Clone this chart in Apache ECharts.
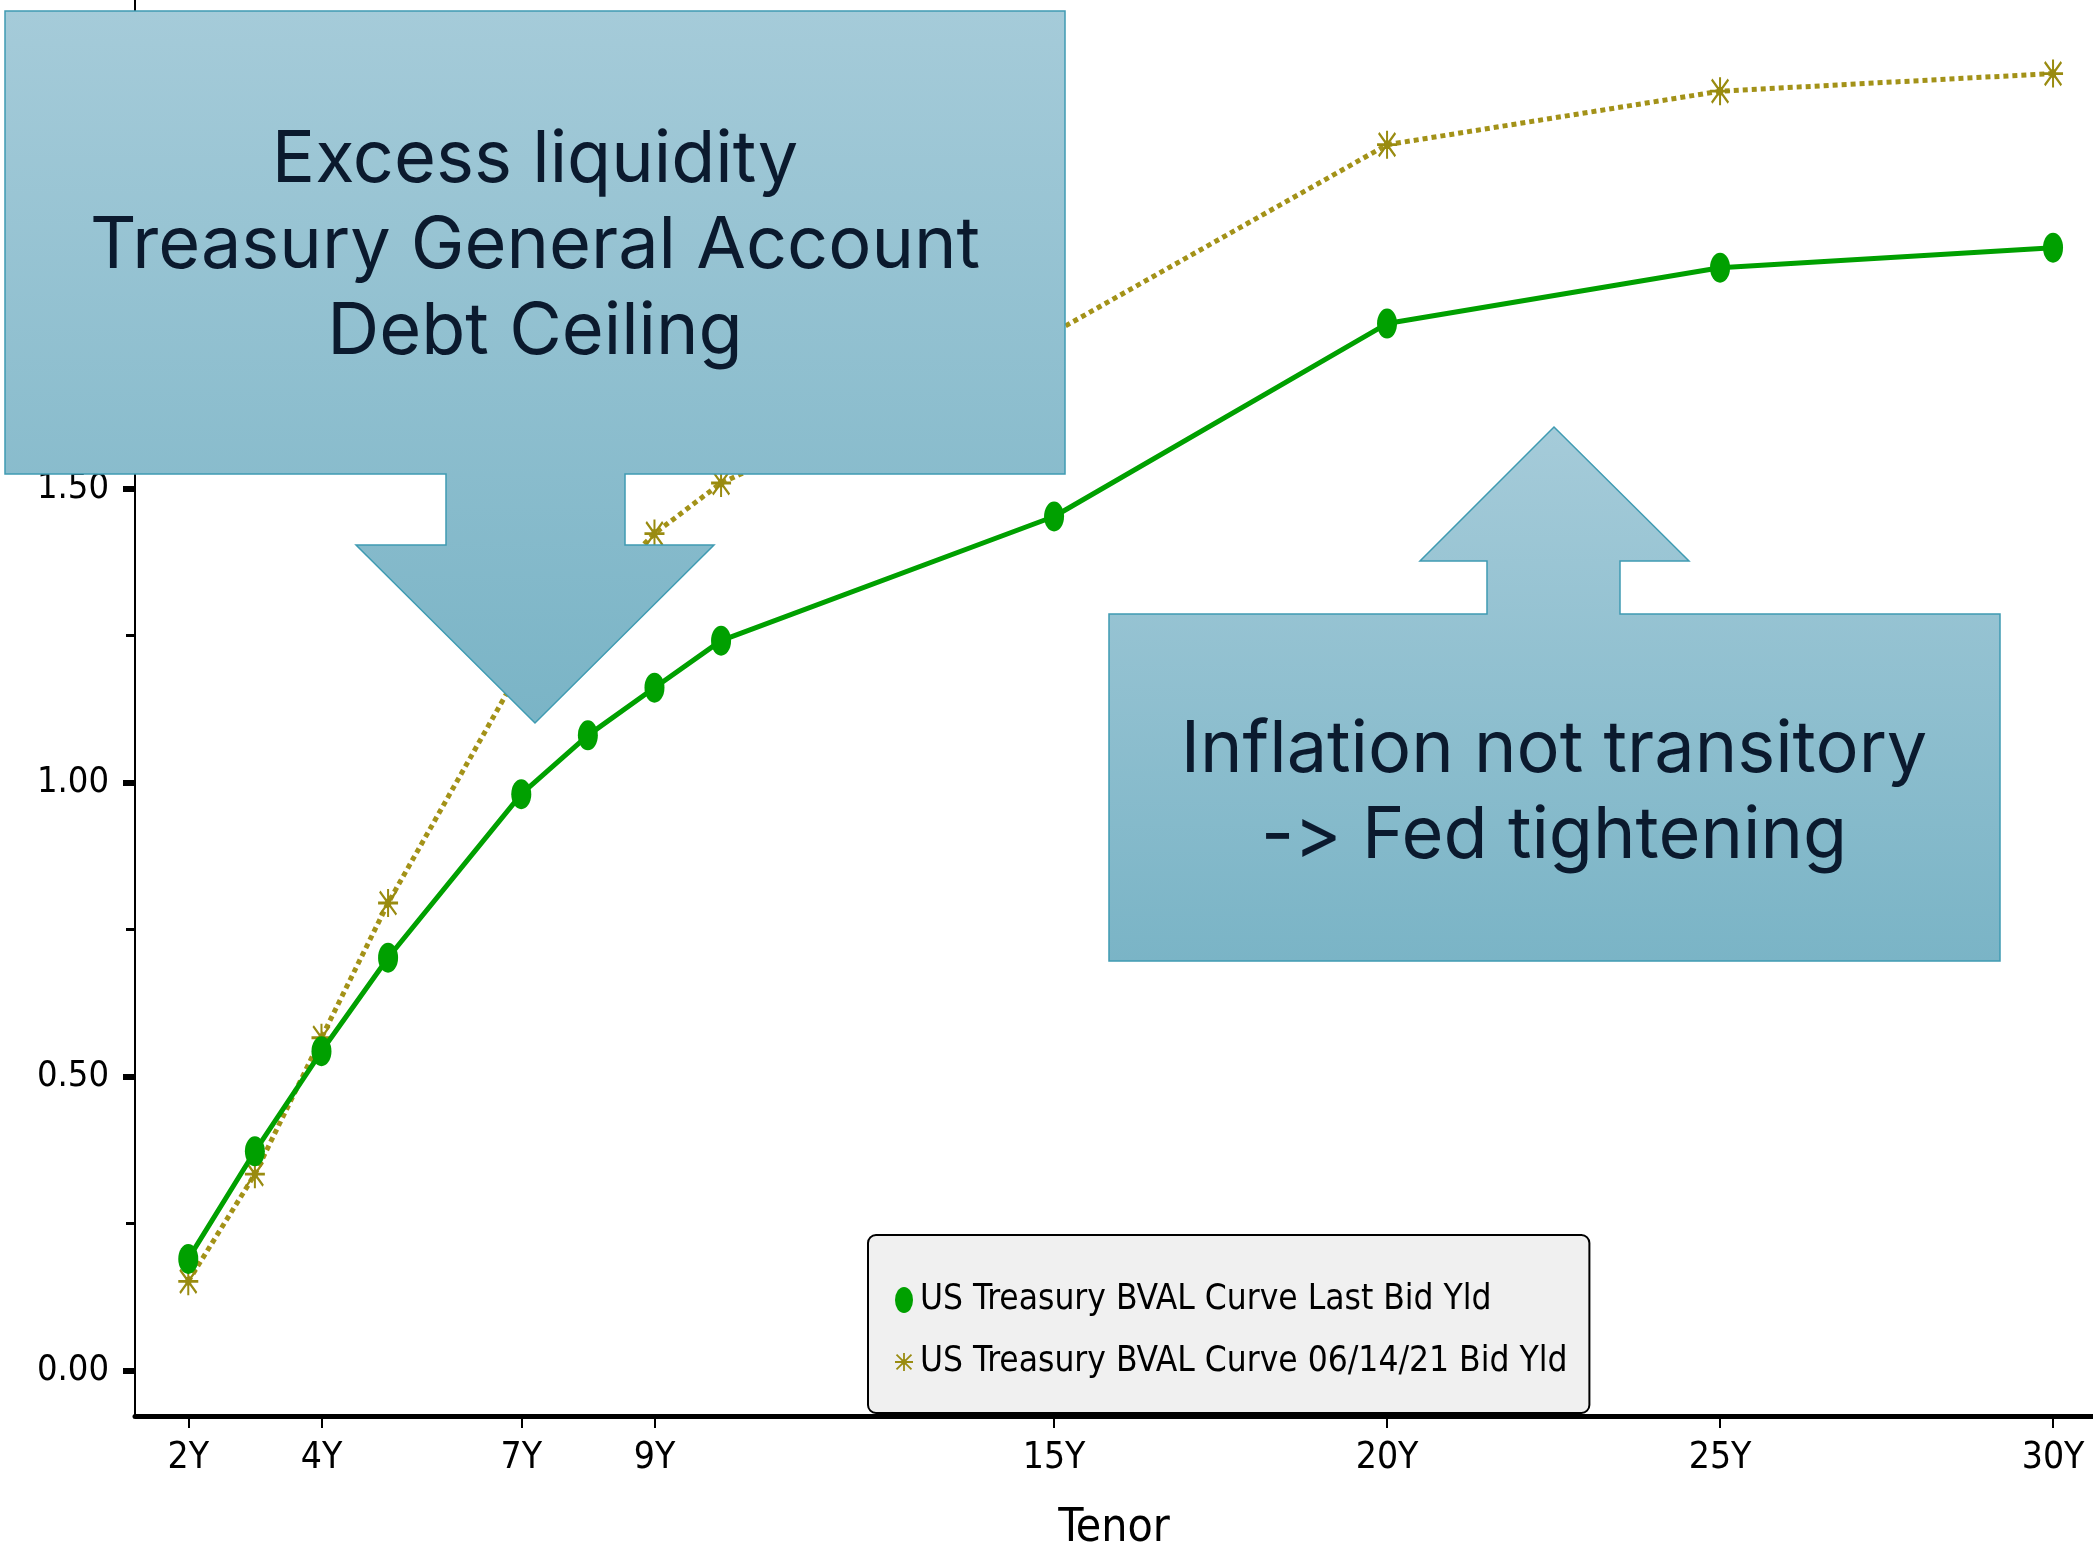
<!DOCTYPE html>
<html>
<head>
<meta charset="utf-8">
<title>US Treasury BVAL Curve</title>
<script src="https://cdn.jsdelivr.net/npm/echarts@6/dist/echarts.min.js"></script>
<style>
  html, body { margin: 0; padding: 0; background: #fff; }
  #chart { width: 2093px; height: 1557px; }
</style>
</head>
<body>
<div id="chart"></div>
<script>
// tenors in years
const tenors = [2, 3, 4, 5, 7, 8, 9, 10, 15, 20, 25, 30];
const lastBidYld = [0.19, 0.373, 0.543, 0.702, 0.98, 1.08, 1.161, 1.241, 1.452, 1.78, 1.875, 1.909];
const june14BidYld = [0.152, 0.334, 0.566, 0.795, 1.195, 1.31, 1.423, 1.509, 1.765, 2.084, 2.175, 2.205];
const xTickValues = [2, 4, 7, 9, 15, 20, 25, 30];
const yLabelValues = [0, 0.5, 1, 1.5, 2];
const yMinorValues = [0.25, 0.75, 1.25, 1.75, 2.25];

const seriesNames = ["US Treasury BVAL Curve Last Bid Yld", "US Treasury BVAL Curve 06/14/21 Bid Yld"];

const narrow = "'Liberation Sans Narrow', 'DejaVu Sans Condensed', sans-serif";
const ellipse = "path://M0,13 A9,13 0 1,1 18,13 A9,13 0 1,1 0,13 Z";
const asterisk = "path://M0,9 L20,9 L20,11 L0,11 Z M9,0 L11,0 L11,20 L9,20 Z " +
  "M1,2.4 L2.4,1 L19,17.6 L17.6,19 Z M17.6,1 L19,2.4 L2.4,19 L1,17.6 Z M7,7 L13,7 L13,13 L7,13 Z";

const chart = echarts.init(document.getElementById("chart"));

const calloutFill = () => new echarts.graphic.LinearGradient(0, 0, 0, 1, [
  { offset: 0, color: "#a5cbd9" },
  { offset: 1, color: "#7ab4c6" }
]);

const option = {
  animation: false,
  grid: { left: 135, right: 0, top: 0, bottom: 141, outerBoundsMode: "none" },
  xAxis: {
    type: "value",
    min: 1.2,
    max: 30.6,
    name: "Tenor",
    nameLocation: "middle",
    nameGap: 90,
    nameTextStyle: { fontFamily: narrow, fontSize: 46, color: "#000" },
    splitLine: { show: false },
    axisLine: { onZero: false, lineStyle: { color: "#000", width: 5 } },
    axisTick: { customValues: xTickValues, length: 12, lineStyle: { color: "#000", width: 2 } },
    axisLabel: {
      customValues: xTickValues,
      formatter: v => v + "Y",
      fontFamily: narrow,
      fontSize: 37,
      color: "#000",
      margin: 24
    }
  },
  yAxis: [
    {
      type: "value",
      min: -0.077,
      max: 2.33,
      splitLine: { show: false },
      axisLine: { show: true, lineStyle: { color: "#000", width: 2 } },
      axisTick: { show: true, customValues: yLabelValues, length: 12, lineStyle: { color: "#000", width: 6 } },
      axisLabel: {
        customValues: yLabelValues,
        formatter: v => v.toFixed(2),
        fontFamily: narrow,
        fontSize: 36,
        color: "#000",
        margin: 26
      }
    },
    {
      type: "value",
      min: -0.077,
      max: 2.33,
      position: "left",
      splitLine: { show: false },
      axisLine: { show: false },
      axisLabel: { show: false },
      axisTick: { show: true, customValues: yMinorValues, length: 9, lineStyle: { color: "#000", width: 3 } }
    }
  ],
  legend: {
    orient: "vertical",
    left: 868,
    top: 1235,
    padding: [45, 22, 31, 27],
    itemGap: 22,
    itemWidth: 18,
    itemHeight: 28,
    backgroundColor: "#f0f0f0",
    borderColor: "#000",
    borderWidth: 2,
    borderRadius: 8,
    textStyle: { fontFamily: narrow, fontSize: 35, color: "#000", lineHeight: 40, padding: [0, 0, 0, 2] },
    data: [
      { name: seriesNames[0], icon: ellipse },
      { name: seriesNames[1], icon: asterisk }
    ]
  },
  series: [
    {
      name: seriesNames[1],
      type: "line",
      data: tenors.map((t, i) => [t, june14BidYld[i]]),
      symbol: asterisk,
      symbolSize: [20, 28],
      itemStyle: { color: "#998b10" },
      lineStyle: { color: "#a39218", width: 5, type: [5, 4] },
      z: 2
    },
    {
      name: seriesNames[0],
      type: "line",
      data: tenors.map((t, i) => [t, lastBidYld[i]]),
      symbol: ellipse,
      symbolSize: [20, 30],
      itemStyle: { color: "#00a000" },
      lineStyle: { color: "#00a000", width: 5 },
      z: 3
    }
  ],
  graphic: [
    {
      type: "polygon",
      z: 100,
      shape: {
        points: [[5, 11], [1065, 11], [1065, 474], [625, 474], [625, 545], [714, 545], [535, 723],
          [356, 545], [446, 545], [446, 474], [5, 474]]
      },
      style: { fill: calloutFill(), stroke: "#3f9bb2", lineWidth: 1.5 }
    },
    {
      type: "text",
      z: 101,
      x: 535,
      y: 246,
      style: {
        text: "Excess liquidity\nTreasury General Account\nDebt Ceiling",
        fontFamily: "Inter, 'Noto Sans', sans-serif",
        fontSize: 72,
        lineHeight: 86,
        fill: "#0b1a2e",
        align: "center",
        verticalAlign: "middle"
      }
    },
    {
      type: "polygon",
      z: 100,
      shape: {
        points: [[1554, 427], [1689, 561], [1620, 561], [1620, 614], [2000, 614], [2000, 961],
          [1109, 961], [1109, 614], [1487, 614], [1487, 561], [1420, 561]]
      },
      style: { fill: calloutFill(), stroke: "#3f9bb2", lineWidth: 1.5 }
    },
    {
      type: "text",
      z: 101,
      x: 1554,
      y: 793,
      style: {
        // ZWNJ keeps Inter from turning "->" into an arrow glyph
        text: "Inflation not transitory\n-\u200C> Fed tightening",
        fontFamily: "Inter, 'Noto Sans', sans-serif",
        fontSize: 72,
        lineHeight: 86,
        fill: "#0b1a2e",
        align: "center",
        verticalAlign: "middle"
      }
    }
  ]
};

chart.setOption(option);
window.onresize = function () {
  chart.resize();
};
</script>
</body>
</html>
